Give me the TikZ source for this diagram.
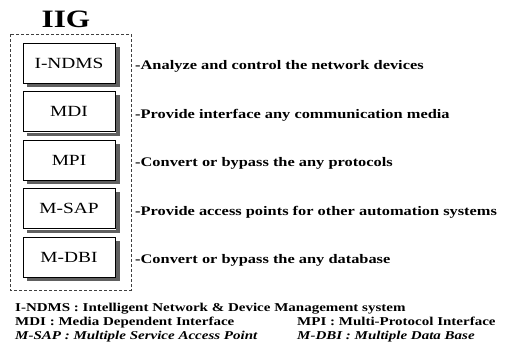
\documentclass[tikz,border=0pt]{standalone}
\usepackage{fontspec}
\setmainfont[FakeStretch=1.25]{Liberation Serif}
\usetikzlibrary{positioning}
\tikzset{
  modbox/.style={draw, line width=1pt, fill=white, minimum width=92pt, minimum height=40pt,
    inner sep=0pt, font=\fontsize{15.5}{15}\selectfont},
  boxshade/.style={fill=gray!75!black},
  desc/.style={anchor=base west, inner sep=0pt, font=\fontsize{13.1}{14}\selectfont\bfseries},
  legend/.style={anchor=base west, inner sep=0pt, font=\fontsize{12}{12}\selectfont\bfseries},
  legendit/.style={legend, font=\fontsize{12}{12}\selectfont\bfseries\itshape},
  frame/.style={draw=gray!50!black, dash pattern=on 3pt off 2pt, line width=0.5pt}
}
\begin{document}
\begin{tikzpicture}[x=1pt,y=-1pt]
  \useasboundingbox (0,0) rectangle (511,351);
  % titulo
  \node[inner sep=0pt, font=\fontsize{25}{25}\selectfont\bfseries] (iig) at (66,19) {IIG};
  % moldura
  \draw[frame] (10,34) rectangle (131,290);
  % modulos
  \node[modbox] (indms) at (69,63) {I-NDMS};
  \node[modbox] (mdi) at (69,111.5) {MDI};
  \node[modbox] (mpi) at (69,160) {MPI};
  \node[modbox] (msap) at (69,208.5) {M-SAP};
  \node[modbox] (mdbi) at (69,257) {M-DBI};
  % sombras
  \foreach \m in {indms,mdi,mpi,msap,mdbi} {
    \fill[boxshade] ([shift={(0.5,4)}]\m.north east) rectangle ([shift={(4.5,3.5)}]\m.south east);
    \fill[boxshade] ([shift={(4,0.5)}]\m.south west) rectangle ([shift={(4.5,3.5)}]\m.south east);
  }
  % funcoes
  \node[desc] (dindms) at (135,69.5) {-Analyze and control the network devices};
  \node[desc] (dmdi) at (135,118) {-Provide interface any communication media};
  \node[desc] (dmpi) at (135,166.5) {-Convert or bypass the any protocols};
  \node[desc] (dmsap) at (135,215) {-Provide access points for other automation systems};
  \node[desc] (dmdbi) at (135,263.5) {-Convert or bypass the any database};
  % legenda
  \node[legend] (lindms) at (15,311) {I-NDMS : Intelligent Network \& Device Management system};
  \node[legend] (lmdi) at (15,325) {MDI : Media Dependent Interface};
  \node[legend] (lmpi) at (297,325) {MPI : Multi-Protocol Interface};
  \node[legendit] (lmsap) at (15,339) {M-SAP : Multiple Service Access Point};
  \node[legendit] (lmdbi) at (297,339) {M-DBI : Multiple Data Base};
\end{tikzpicture}
\end{document}
